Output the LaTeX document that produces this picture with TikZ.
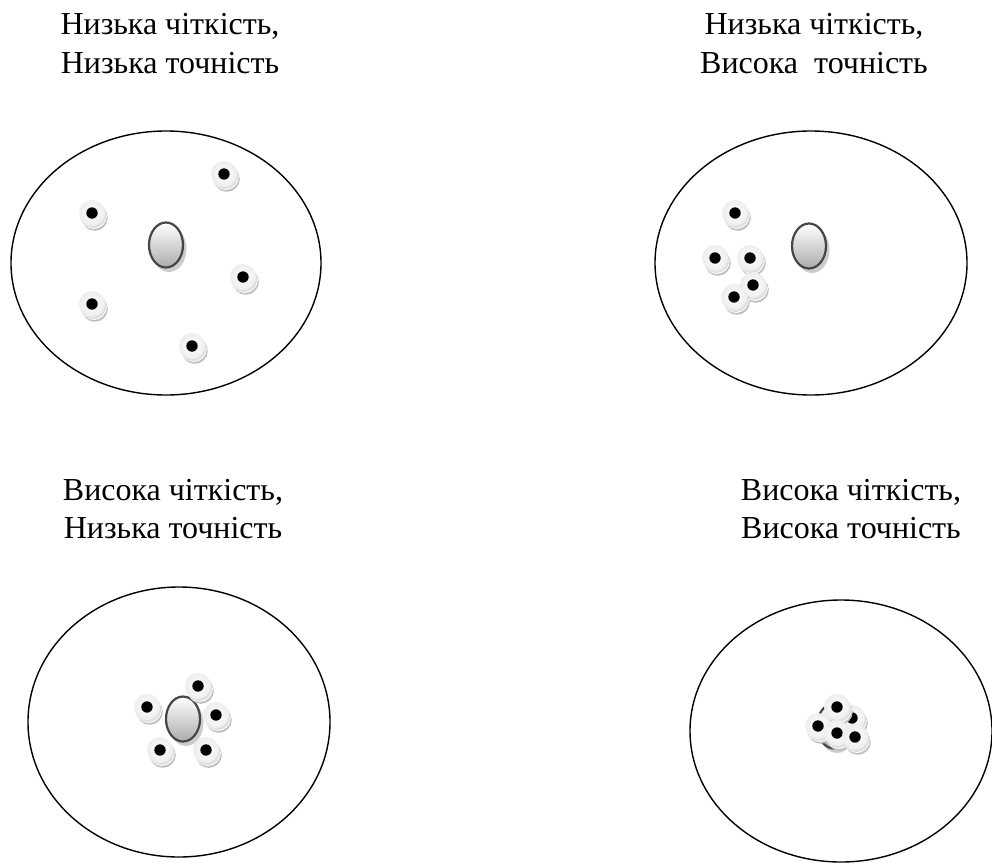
\documentclass[tikz,border=0pt]{standalone}
\usepackage{fontspec}
\setmainfont{Liberation Serif}
\usetikzlibrary{shapes.geometric}

\tikzset{
  field/.style={draw=black, line width=1.4pt},
  caption/.style={anchor=base, inner sep=0pt, font=\fontsize{32}{38}\selectfont},
  % one shot: a raised white disc with a black centre
  shot/.pic={
    \fill[gray!50] (2.8,4.8) circle (13);
    \fill[white] (1.8,3.0) circle (13);
    \fill[gray!25] (1.3,2.1) circle (13);
    \shade[inner color=white, outer color=gray!14] (0,0) circle (13);
    \fill[black] (0,0) circle (5.7);
  },
  % the aimed-at centre: shaded oval with a soft shadow
  bull/.pic={
    \fill[gray!40] (3,4) ellipse (17.5 and 23);
    \shade[top color=white, bottom color=gray!65, draw=gray!55!black, line width=2.2pt]
      (0,0) ellipse (17 and 22.5);
  }
}

\begin{document}
\begin{tikzpicture}[x=1pt, y=-1pt]
\useasboundingbox (0,0) rectangle (992,867);

% ---- captions ----
\node[caption] (tl1) at (170,35) {Низька чіткість,};
\node[caption] (tl2) at (170,73) {Низька точність};
\node[caption] (tr1) at (814,35) {Низька чіткість,};
\node[caption] (tr2) at (814,73) {Висока\ \ точність};
\node[caption] (bl1) at (173,500) {Висока чіткість,};
\node[caption] (bl2) at (173,538) {Низька точність};
\node[caption] (br1) at (851,500) {Висока чіткість,};
\node[caption] (br2) at (851,538) {Висока точність};

% ---- low precision, low accuracy ----
\draw[field] (166,263) ellipse (155 and 132);
\pic at (166,245) {bull};
\pic at (224,174) {shot};
\pic at (92,213) {shot};
\pic at (243,277) {shot};
\pic at (92,304) {shot};
\pic at (192,346) {shot};

% ---- low precision, high accuracy ----
\draw[field] (811,263) ellipse (156 and 132);
\pic at (809,246) {bull};
\pic at (735,213) {shot};
\pic at (715,258) {shot};
\pic at (750,258) {shot};
\pic at (753,285) {shot};
\pic at (734,297) {shot};

% ---- high precision, low accuracy ----
\draw[field] (179,722) ellipse (151 and 135);
\pic at (183,719) {bull};
\pic at (198,686) {shot};
\pic at (147,707) {shot};
\pic at (216,715) {shot};
\pic at (160,750) {shot};
\pic at (206,750) {shot};

% ---- high precision, high accuracy ----
\draw[field] (841,731) ellipse (151 and 131);
\pic at (834,726) {bull};
\pic at (852,718) {shot};
\pic at (837,707) {shot};
\pic at (818,726) {shot};
\pic at (837,733) {shot};
\pic at (855,737) {shot};
\end{tikzpicture}
\end{document}
